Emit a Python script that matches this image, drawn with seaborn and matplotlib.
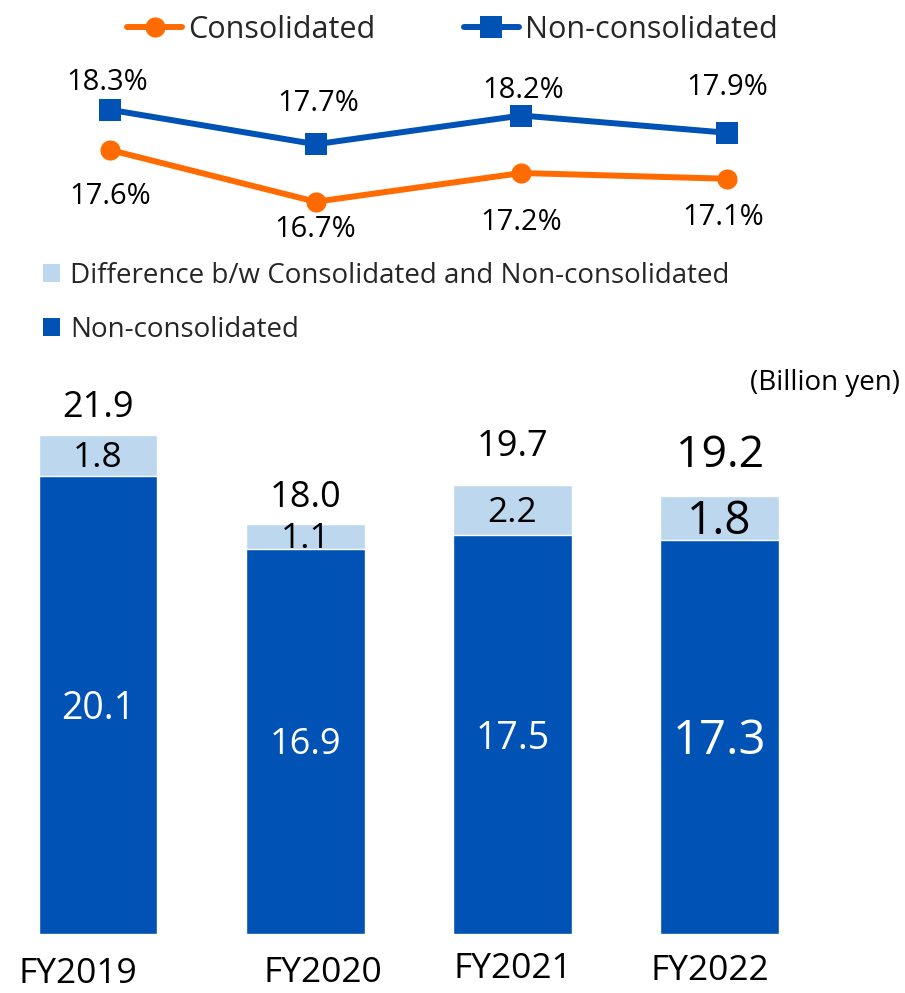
import matplotlib
matplotlib.use("Agg")
import matplotlib.pyplot as plt
from matplotlib.patches import Patch
import seaborn as sns
import pandas as pd

# ---- data ----
years = ["FY2019", "FY2020", "FY2021", "FY2022"]
ratio_consolidated = [17.6, 16.7, 17.2, 17.1]          # %
ratio_non_consolidated = [18.3, 17.7, 18.2, 17.9]      # %
amount_non_consolidated = [20.1, 16.9, 17.5, 17.3]     # billion yen
amount_difference = [1.8, 1.1, 2.2, 1.8]               # billion yen
amount_consolidated = [21.9, 18.0, 19.7, 19.2]         # billion yen

# ---- styling ----
ORANGE = "#FF6B00"
BLUE = "#0052B4"
LIGHT = "#BDD7EE"

sns.set_style("white")
plt.rcParams["font.family"] = ["Open Sans", "DejaVu Sans"]

W, H = 905, 993
fig = plt.figure(figsize=(W / 100, H / 100), dpi=100)

# ---- bar panel ----
ax_bar = fig.add_axes([0, 59 / H, 1, 547 / H])
df = pd.DataFrame({
    "year": years,
    "total": amount_consolidated,
    "non": amount_non_consolidated,
    "diff": amount_difference,
})
sns.barplot(data=df, x="year", y="total", color=LIGHT, saturation=1,
            width=0.574, ax=ax_bar)
sns.barplot(data=df, x="year", y="non", color=BLUE, saturation=1,
            width=0.574, ax=ax_bar)
ax_bar.set_xlim(-0.473, 3.895)
ax_bar.set_ylim(0, 24)
ax_bar.axis("off")

total_dy = [27, 26, 38, 41]
total_fs = [26, 26, 26, 32]
diff_fs = [25.5, 25.5, 25.5, 33]
non_fs = [27, 26, 27, 34]
for i in range(len(years)):
    ax_bar.annotate(f"{amount_consolidated[i]:.1f}", (i, amount_consolidated[i]),
                    xytext=(0, total_dy[i]), textcoords="offset pixels",
                    ha="center", va="center", fontsize=total_fs[i], color="black")
    mid = amount_non_consolidated[i] + amount_difference[i] / 2
    ax_bar.annotate(f"{amount_difference[i]:.1f}", (i, mid),
                    xytext=(0, -3), textcoords="offset pixels",
                    ha="center", va="center", fontsize=diff_fs[i], color="black")
    ax_bar.annotate(f"{amount_non_consolidated[i]:.1f}",
                    (i, amount_non_consolidated[i] / 2),
                    xytext=(0, -4), textcoords="offset pixels",
                    ha="center", va="center", fontsize=non_fs[i], color="white")

# category labels under the bars
year_dx = [-20, 18, 0, -10]
year_y = [974, 973, 969, 971]
for i, yr in enumerate(years):
    ax_bar.annotate(yr, (i, 0), xycoords="data",
                    xytext=(year_dx[i], -(year_y[i] - 934)), textcoords="offset pixels",
                    ha="center", va="center", fontsize=25.5, color="black")

fig.text(900 / W, 1 - 383 / H, "(Billion yen)", ha="right", va="center",
         fontsize=20, color="black")

# ---- ratio panel ----
ax_line = fig.add_axes([0, 1 - 242 / H, 1, 172.5 / H])
idx = list(range(len(years)))
sns.lineplot(x=idx, y=ratio_consolidated, ax=ax_line, color=ORANGE,
             linewidth=4.3, marker="o", markersize=14.5,
             markeredgecolor=ORANGE, markeredgewidth=0, label="Consolidated")
sns.lineplot(x=idx, y=ratio_non_consolidated, ax=ax_line, color=BLUE,
             linewidth=4.3, marker="s", markersize=16.5,
             markeredgecolor=BLUE, markeredgewidth=0, label="Non-consolidated")
ax_line.set_xlim(-0.535, 3.865)
ax_line.set_ylim(16, 19)
ax_line.axis("off")

non_off = [(-3, 27), (3, 41), (2, 25), (0, 45)]
con_off = [(0, -47), (-1, -28), (0, -49), (-4, -39)]
for i in idx:
    ax_line.annotate(f"{ratio_non_consolidated[i]:.1f}%", (i, ratio_non_consolidated[i]),
                     xytext=non_off[i], textcoords="offset pixels",
                     ha="center", va="center", fontsize=21, color="black")
    ax_line.annotate(f"{ratio_consolidated[i]:.1f}%", (i, ratio_consolidated[i]),
                     xytext=con_off[i], textcoords="offset pixels",
                     ha="center", va="center", fontsize=21, color="black")

handles, labels = ax_line.get_legend_handles_labels()
ax_line.get_legend().remove()
fig.legend(handles, labels, loc="center left",
           bbox_to_anchor=(127 / W, 1 - 30 / H), ncol=2, frameon=False,
           fontsize=22, handlelength=1.8, handletextpad=0.2,
           columnspacing=2.9, borderpad=0, borderaxespad=0)

# ---- bar legend ----
bar_handles = [Patch(facecolor=LIGHT, edgecolor="none"),
               Patch(facecolor=BLUE, edgecolor="none")]
fig.legend(bar_handles,
           ["Difference b/w Consolidated and Non-consolidated", "Non-consolidated"],
           loc="center left", bbox_to_anchor=(43 / W, 1 - 303 / H),
           frameon=False, fontsize=20, handlelength=0.62, handleheight=0.62,
           handletextpad=0.35, labelspacing=0.95, borderpad=0, borderaxespad=0)

fig.savefig("out.png", dpi=100)
